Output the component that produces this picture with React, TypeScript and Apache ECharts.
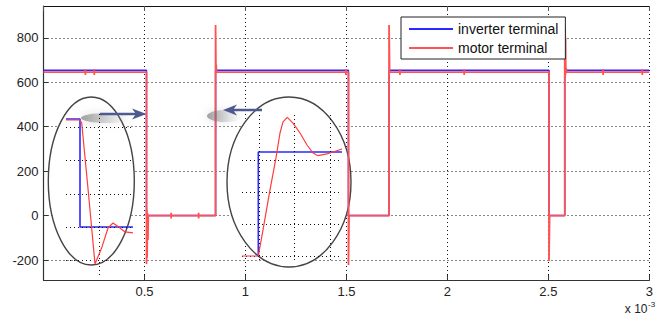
import React, { useEffect, useRef } from "react";
import * as echarts from "echarts";

// Time in milliseconds (the axis shows the x10^-3 exponent), voltage in volts.
const inverterTime = [0, 0.51, 0.51, 0.852, 0.852, 1.51, 1.51, 1.711, 1.711, 2.503, 2.503, 2.581, 2.581, 3];
const inverterVolt = [654, 654, 0, 0, 654, 654, 0, 0, 654, 654, 0, 0, 654, 654];

const motorTime = [
  0, 0.2075, 0.2075, 0.2075, 0.2075, 0.2515, 0.2515, 0.2515, 0.2515,
  0.51, 0.51, 0.512, 0.513, 0.515, 0.517, 0.519,
  0.632, 0.632, 0.632, 0.632, 0.768, 0.768, 0.768, 0.768,
  0.852, 0.852, 0.854, 0.855, 0.857,
  1.497, 1.497, 1.497, 1.497,
  1.51, 1.51, 1.513, 1.711, 1.711, 1.714,
  1.765, 1.765, 1.765, 1.765, 2.083, 2.083, 2.083, 2.083,
  2.503, 2.503, 2.506, 2.581, 2.581, 2.582, 2.583, 2.584, 2.585, 2.586, 2.588, 2.59,
  2.771, 2.771, 2.771, 2.771, 2.965, 2.965, 2.965, 2.965, 3,
];
const motorVolt = [
  645, 645, 658, 632, 645, 645, 658, 632, 645,
  645, -218, 25, -190, 12, -110, 0,
  0, 13, -13, 0, 0, 13, -13, 0,
  0, 857, 640, 680, 645,
  645, 658, 632, 645,
  645, -222, 0, 0, 857, 645,
  645, 658, 632, 645, 645, 658, 632, 645,
  645, -205, 0, 0, 857, 620, 845, 630, 800, 640, 665, 645,
  645, 658, 632, 645, 645, 658, 632, 645, 645,
];

// Falling-edge detail (time in ns)
const fallInverterTime = [0, 140, 140, 670];
const fallInverterVolt = [650, 650, 0, 0];
const fallMotorTime = [0, 140, 157, 225, 290, 360, 420, 470, 540, 590, 670];
const fallMotorVolt = [644, 644, 626, 200, -223, -120, -6, 24, -6, -30, -36];
const fallGridVolt = [-200, 0, 200, 400, 600];
const fallGridTime = [330];

// Rising-edge detail (time in ns)
const riseInverterTime = [163, 163, 1000];
const riseInverterVolt = [0, 650, 650];
const riseMotorTime = [0, 163, 210, 280, 340, 380, 410, 453, 510, 580, 650, 710, 760, 850, 910, 1000];
const riseMotorVolt = [0, 0, 163, 413, 613, 769, 838, 867, 831, 769, 694, 644, 627, 638, 650, 669];
const riseGridVolt = [0, 200, 400, 600];
const riseGridTime = [170, 525, 880];

const zip = (t: number[], v: number[]) => t.map((x, i) => [x, v[i]]);

const FONT = "'Liberation Sans', Arial, sans-serif";
const BLUE = "#2a2aff";
const RED = "#ff5252";
const dotted = { color: "#111", type: [1, 3] as number[], width: 1 };

const detailGrid = (volts: number[], times: number[]) => ({
  silent: true,
  symbol: ["none", "none"],
  label: { show: false },
  lineStyle: dotted,
  data: [...volts.map((v) => ({ yAxis: v })), ...times.map((t) => ({ xAxis: t }))],
});

export default function App() {
  const ref = useRef<HTMLDivElement>(null);

  useEffect(() => {
    if (!ref.current) return;
    const chart = echarts.init(ref.current, null, { renderer: "svg" });

    const arrowShadow = (cx: number, cy: number, rx: number, ry: number) => ({
      type: "ellipse",
      z: 5,
      shape: { cx, cy, rx, ry },
      style: {
        fill: {
          type: "linear", x: 0, y: 0, x2: 1, y2: 0,
          colorStops: [
            { offset: 0, color: "rgba(90,90,90,0.55)" },
            { offset: 0.45, color: "rgba(130,130,130,0.3)" },
            { offset: 1, color: "rgba(190,190,190,0)" },
          ],
        },
        shadowBlur: 10,
        shadowColor: "rgba(120,120,120,0.55)",
      },
    });

    chart.setOption({
      animation: false,
      backgroundColor: "#fff",
      textStyle: { fontFamily: FONT },
      grid: [
        { left: 43.5, top: 6, width: 614.5, height: 274 },
        { left: 66, top: 113, width: 67, height: 162 },
        { left: 242, top: 113, width: 100, height: 147 },
      ],
      xAxis: [
        {
          gridIndex: 0, type: "value", min: 0, max: 3, interval: 0.5, position: "bottom",
          axisLine: { show: true, onZero: false, lineStyle: { color: "#333", width: 1.2 } },
          axisTick: { show: true, inside: true, length: 5, lineStyle: { color: "#333" } },
          axisLabel: { showMinLabel: false, fontSize: 13, color: "#222", margin: 5, fontFamily: FONT },
          splitLine: { show: true, lineStyle: dotted },
        },
        {
          gridIndex: 0, type: "value", min: 0, max: 3, interval: 0.5, position: "top",
          axisLine: { show: true, onZero: false, lineStyle: { color: "#111", width: 1 } },
          axisTick: { show: true, inside: true, length: 5, lineStyle: { color: "#555" } },
          axisLabel: { show: false },
          splitLine: { show: false },
        },
        { gridIndex: 1, type: "value", min: 0, max: 670, show: false },
        { gridIndex: 2, type: "value", min: 0, max: 1000, show: false },
      ],
      yAxis: [
        {
          gridIndex: 0, type: "value", min: -290, max: 943, splitNumber: 6, minInterval: 200, maxInterval: 200,
          axisLine: { show: true, onZero: false, lineStyle: { color: "#333", width: 1.2 } },
          axisTick: { show: true, inside: true, length: 5, lineStyle: { color: "#333" } },
          axisLabel: { showMinLabel: false, showMaxLabel: false, fontSize: 13, color: "#222", margin: 5, fontFamily: FONT },
          splitLine: { show: true, lineStyle: dotted },
        },
        { gridIndex: 1, type: "value", min: -289, max: 686, show: false },
        { gridIndex: 2, type: "value", min: -25, max: 894, show: false },
      ],
      legend: {
        data: ["inverter terminal", "motor terminal"],
        orient: "vertical",
        left: 401,
        top: 17,
        padding: [5, 7, 4, 8],
        itemGap: 5,
        itemWidth: 44,
        itemHeight: 2,
        icon: "rect",
        backgroundColor: "#fff",
        borderColor: "#222",
        borderWidth: 1,
        textStyle: { fontSize: 14, color: "#111", fontFamily: FONT },
      },
      series: [
        {
          name: "inverter terminal", type: "line", xAxisIndex: 0, yAxisIndex: 0,
          data: zip(inverterTime, inverterVolt), symbol: "none", color: BLUE,
          lineStyle: { color: BLUE, width: 1.5 }, z: 2,
        },
        {
          name: "motor terminal", type: "line", xAxisIndex: 0, yAxisIndex: 0,
          data: zip(motorTime, motorVolt), symbol: "none", color: RED,
          lineStyle: { color: RED, width: 1.8 }, z: 3,
        },
        {
          name: "inverter falling edge", type: "line", xAxisIndex: 2, yAxisIndex: 1,
          data: zip(fallInverterTime, fallInverterVolt), symbol: "none",
          lineStyle: { color: BLUE, width: 1.6 }, z: 4,
          markLine: detailGrid(fallGridVolt, fallGridTime),
        },
        {
          name: "motor falling edge", type: "line", xAxisIndex: 2, yAxisIndex: 1,
          data: zip(fallMotorTime, fallMotorVolt), symbol: "none",
          lineStyle: { color: "#ff3c3c", width: 1.2 }, z: 5,
        },
        {
          name: "inverter rising edge", type: "line", xAxisIndex: 3, yAxisIndex: 2,
          data: zip(riseInverterTime, riseInverterVolt), symbol: "none",
          lineStyle: { color: BLUE, width: 1.6 }, z: 4,
          markLine: detailGrid(riseGridVolt, riseGridTime),
        },
        {
          name: "motor rising edge", type: "line", xAxisIndex: 3, yAxisIndex: 2,
          data: zip(riseMotorTime, riseMotorVolt), symbol: "none",
          lineStyle: { color: "#ff3c3c", width: 1.2 }, z: 5,
        },
      ],
      graphic: [
        { type: "ellipse", z: 1, shape: { cx: 91.3, cy: 181, rx: 43, ry: 84 }, style: { fill: "#fff", stroke: "#444", lineWidth: 1.4 } },
        { type: "ellipse", z: 1, shape: { cx: 289, cy: 182, rx: 62, ry: 85 }, style: { fill: "#fff", stroke: "#444", lineWidth: 1.4 } },
        arrowShadow(107, 118, 26, 5),
        { type: "line", z: 6, shape: { x1: 100, y1: 114, x2: 137, y2: 114 }, style: { stroke: "#4d5a8f", lineWidth: 2.5 } },
        { type: "polygon", z: 6, shape: { points: [[132, 108.5], [146.5, 114], [132, 119.5], [136, 114]] }, style: { fill: "#4d5a8f" } },
        arrowShadow(225, 116, 18, 6),
        { type: "line", z: 6, shape: { x1: 233, y1: 110, x2: 262, y2: 110 }, style: { stroke: "#4d5a8f", lineWidth: 2.5 } },
        { type: "polygon", z: 6, shape: { points: [[237, 104.5], [223, 110], [237, 115.5], [233, 110]] }, style: { fill: "#4d5a8f" } },
        { type: "text", z: 6, x: 647.5, y: 309, style: { text: "x 10", fontSize: 12, fill: "#222", fontFamily: FONT, textAlign: "right", textVerticalAlign: "middle" } },
        { type: "text", z: 6, x: 648, y: 304, style: { text: "-3", fontSize: 8, fill: "#222", fontFamily: FONT, textAlign: "left", textVerticalAlign: "middle" } },
      ],
    });

    return () => chart.dispose();
  }, []);

  return (
    <div
      ref={ref}
      style={{ position: "fixed", left: 0, top: 0, width: 656, height: 327, background: "#fff" }}
    />
  );
}
